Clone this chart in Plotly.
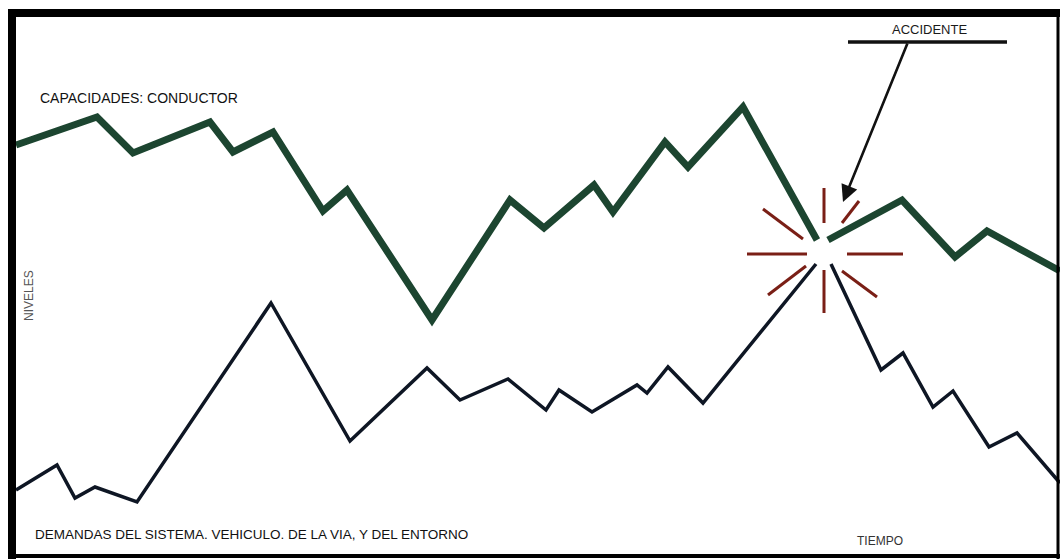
import plotly.graph_objects as go

# --- Data (tiempo: horizontal units, niveles: vertical units) ---
cap_tiempo = [16, 97, 133, 210, 233, 273, 323, 347, 432, 510, 544, 594, 613, 665, 688, 743, 817,
              None, 828, 902, 955, 987, 1060]
cap_niveles = [414, 442, 406, 437, 407, 427, 348, 369, 239, 359, 331, 374, 347, 417, 392, 452, 319,
               None, 319, 359, 302, 328, 288]

dem_tiempo = [16, 57, 75, 95, 137, 271, 350, 427, 460, 508, 546, 559, 592, 637, 647, 668, 703, 816,
              None, 831, 881, 903, 933, 953, 989, 1017, 1060]
dem_niveles = [69, 94, 61, 72, 57, 256, 118, 191, 159, 180, 149, 169, 147, 174, 166, 192, 156, 295,
               None, 295, 189, 206, 152, 168, 112, 126, 76]

# burst rays around the accident point (start/end pairs)
ray_x0 = [824, 824, 747, 847, 763, 859, 806, 842]
ray_y0 = [371, 289, 305, 305, 350, 358, 293, 288]
ray_x1 = [824, 824, 807, 903, 803, 842, 768, 877]
ray_y1 = [336, 246, 305, 305, 320, 336, 264, 262]

# accident callout
acc_bar_x = [848, 1007]
acc_bar_y = [517, 517]
acc_tail = (908, 517)
acc_head = (843, 357)

burst_x, burst_y = [], []
for a, b, c, d in zip(ray_x0, ray_y0, ray_x1, ray_y1):
    burst_x += [a, c, None]
    burst_y += [b, d, None]

fig = go.Figure()
fig.add_trace(go.Scatter(x=burst_x, y=burst_y, mode="lines",
                         line=dict(color="#7a1f16", width=3), hoverinfo="skip"))
fig.add_trace(go.Scatter(x=cap_tiempo, y=cap_niveles, mode="lines",
                         line=dict(color="#1c4530", width=7), connectgaps=False))
fig.add_trace(go.Scatter(x=dem_tiempo, y=dem_niveles, mode="lines",
                         line=dict(color="#0e1624", width=3.5), connectgaps=False))
fig.add_trace(go.Scatter(x=acc_bar_x, y=acc_bar_y, mode="lines",
                         line=dict(color="#111111", width=3.5)))

font = "Liberation Sans Narrow, Liberation Sans, Arial, sans-serif"
annotations = [
    dict(x=acc_head[0], y=acc_head[1], ax=acc_tail[0], ay=acc_tail[1],
         xref="x", yref="y", axref="x", ayref="y", showarrow=True, text="",
         arrowhead=2, arrowsize=1.3, arrowwidth=2.6, arrowcolor="#111111"),
    dict(x=38, y=461, xref="x", yref="y", text="CAPACIDADES: CONDUCTOR", showarrow=False,
         xanchor="left", yanchor="middle", font=dict(family=font, size=14, color="#111111")),
    dict(x=33, y=25, xref="x", yref="y",
         text="DEMANDAS DEL SISTEMA. VEHICULO. DE LA VIA, Y DEL ENTORNO", showarrow=False,
         xanchor="left", yanchor="middle", font=dict(family=font, size=13.5, color="#111111")),
    dict(x=929, y=530, xref="x", yref="y", text="ACCIDENTE", showarrow=False,
         xanchor="center", yanchor="middle", font=dict(family=font, size=13, color="#1a1a1a")),
    dict(x=880, y=18, xref="x", yref="y", text="TIEMPO", showarrow=False,
         xanchor="center", yanchor="middle", font=dict(family=font, size=12, color="#333333")),
    dict(x=29, y=263, xref="x", yref="y", text="NIVELES", showarrow=False, textangle=-90,
         xanchor="center", yanchor="middle", font=dict(family=font, size=12, color="#555555")),
]

shapes = [
    dict(type="line", xref="x", yref="y", x0=12, x1=12, y0=0, y1=550,
         line=dict(color="black", width=8)),
    dict(type="line", xref="x", yref="y", x0=8, x1=1060, y0=546, y1=546,
         line=dict(color="black", width=8)),
    dict(type="line", xref="x", yref="y", x0=1058, x1=1058, y0=0, y1=550,
         line=dict(color="black", width=3)),
    dict(type="line", xref="x", yref="y", x0=8, x1=1060, y0=3, y1=3,
         line=dict(color="black", width=4)),
]

fig.update_layout(
    width=1060, height=559,
    margin=dict(l=0, r=0, t=0, b=0),
    paper_bgcolor="white", plot_bgcolor="white",
    showlegend=False,
    xaxis=dict(range=[0, 1060], visible=False, fixedrange=True),
    yaxis=dict(range=[0, 559], visible=False, fixedrange=True),
    annotations=annotations,
    shapes=shapes,
)

fig.write_html("out.html",
               config={"displayModeBar": False, "staticPlot": True},
               post_script="document.body.style.margin='0px';document.body.style.overflow='hidden';")
